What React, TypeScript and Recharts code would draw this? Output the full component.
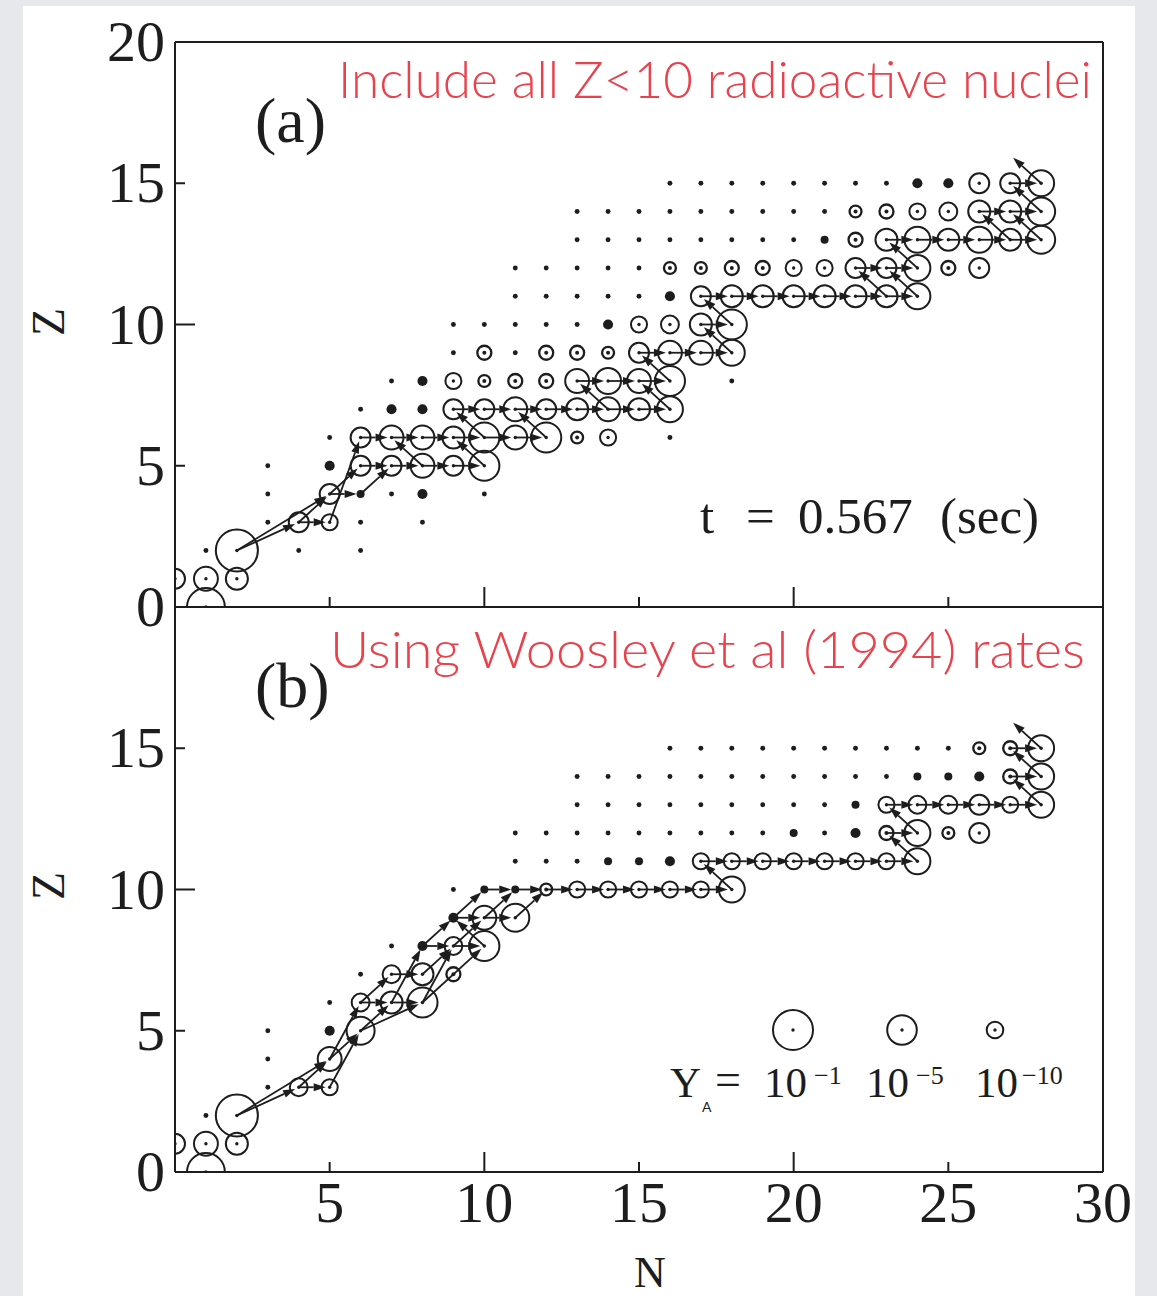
import React from "react";
import { ScatterChart, Scatter, XAxis, YAxis } from "recharts";

const D = -14.5; // nuclei that only show as a speck

type Row = { z: number; n0: number; logY: (number | null)[] };
type Flow = [number, number, number, number];

// panel (a): log10 abundance per nucleus, row by row (Z), starting at N = n0
const nucleiA: Row[] = [
  { z: 0, n0: 1, logY: [-1.8] },
  { z: 1, n0: 0, logY: [-8.7, -7.2, -7.9] },
  { z: 2, n0: 1, logY: [D, -0.2, null, D, null, D] },
  { z: 3, n0: 3, logY: [D, -8.7, -10.2, D, null, D] },
  { z: 4, n0: 3, logY: [D, null, -8.7, -13.3, D, -12.5, null, D] },
  { z: 5, n0: 3, logY: [D, null, -12.5, -8.7, -8.7, -7.2, -8.7, -4.8] },
  { z: 6, n0: 5, logY: [D, -8.7, -7.2, -7.2, -7.9, -4.8, -7.2, -4.8, -11.8, -10.2, null, D] },
  { z: 7, n0: 6, logY: [D, -12.5, -12.5, -8.7, -8.7, -7.2, -8.7, -7.9, -7.2, -7.9, -6.4] },
  { z: 8, n0: 7, logY: [D, -12.5, -10.2, -11.8, -11, -11, -7.2, -6.4, -7.2, -4.8, null, D] },
  { z: 9, n0: 9, logY: [D, -11, D, -11, -11, -11.8, -8.7, -7.2, -7.2, -6.4] },
  { z: 10, n0: 9, logY: [D, D, D, D, D, -12.5, -10.2, -9.5, -7.9, -4.8] },
  { z: 11, n0: 11, logY: [D, D, D, D, D, -12.5, -8.7, -7.9, -7.9, -7.9, -7.9, -7.9, -7.9, -6.4] },
  { z: 12, n0: 11, logY: [D, D, D, D, D, -11.8, -11.8, -11, -11, -10.2, -10.2, -8.7, -8.7, -6.4, -11, -8.7] },
  { z: 13, n0: 13, logY: [D, D, D, D, D, D, D, D, -13.3, -11, -7.9, -6.4, -7.9, -6.4, -7.9, -5.6] },
  { z: 14, n0: 13, logY: [D, D, D, D, D, D, D, D, D, -11.8, -11, -10.2, -9.5, -7.9, -7.9, -5.6] },
  { z: 15, n0: 16, logY: [D, D, D, D, D, D, D, D, -12.5, -12.5, -8.7, -8.7, -6.4] },
];

// panel (b)
const nucleiB: Row[] = [
  { z: 0, n0: 1, logY: [-1.8] },
  { z: 1, n0: 0, logY: [-8.7, -7.2, -7.9] },
  { z: 2, n0: 1, logY: [D, -0.2] },
  { z: 3, n0: 3, logY: [D, -9.5, -10.2] },
  { z: 4, n0: 3, logY: [D, null, -7.2] },
  { z: 5, n0: 3, logY: [D, null, -12.5, -5.6] },
  { z: 6, n0: 5, logY: [D, -9.5, -7.9, -4.8] },
  { z: 7, n0: 6, logY: [D, -9.5, -7.9, -11] },
  { z: 8, n0: 7, logY: [D, -12.5, -9.5, -4.8] },
  { z: 9, n0: 9, logY: [-12.5, -7.2, -5.6] },
  { z: 10, n0: 9, logY: [D, -13.3, -13.3, -11.8, -10.2, -10.2, -10.2, -10.2, -10.2, -6.4] },
  { z: 11, n0: 11, logY: [D, D, D, -13.3, -13.3, -12.5, -10.2, -10.2, -10.2, -10.2, -10.2, -10.2, -10.2, -6.4] },
  { z: 12, n0: 11, logY: [D, D, D, D, D, D, D, D, D, -13.3, D, -12.5, -11, -6.4, -11.8, -8.7] },
  { z: 13, n0: 13, logY: [D, D, D, D, D, D, D, D, D, -13.3, -10.2, -9.5, -9.5, -8.7, -10.2, -6.4] },
  { z: 14, n0: 13, logY: [D, D, D, D, D, D, D, D, D, D, D, -13.3, -13.3, -12.5, -11, -6.4] },
  { z: 15, n0: 16, logY: [D, D, D, D, D, D, D, D, D, D, -11.8, -11, -6.4] },
];

// reaction flows [N from, Z from, N to, Z to]
const flowsA: Flow[] = [
  [2, 2, 4, 3], [2, 2, 5, 4], [4, 3, 5, 3], [4, 3, 5, 4], [5, 4, 6, 4], [5, 3, 6, 6], [5, 4, 6, 5], [6, 4, 7, 5],
  [6, 5, 7, 5], [7, 5, 8, 5], [8, 5, 9, 5], [9, 5, 10, 5],
  [6, 6, 7, 6], [7, 6, 8, 6], [8, 6, 9, 6], [9, 6, 10, 6], [10, 6, 11, 6], [11, 6, 12, 6],
  [8, 5, 7, 6], [10, 5, 9, 6], [10, 6, 9, 7], [12, 6, 11, 7],
  [9, 7, 10, 7], [10, 7, 11, 7], [11, 7, 12, 7], [12, 7, 13, 7], [13, 7, 14, 7], [14, 7, 15, 7], [15, 7, 16, 7],
  [14, 7, 13, 8], [16, 7, 15, 8],
  [13, 8, 14, 8], [14, 8, 15, 8], [15, 8, 16, 8], [16, 8, 15, 9],
  [15, 9, 16, 9], [16, 9, 17, 9], [17, 9, 18, 9], [18, 9, 17, 10],
  [17, 10, 18, 10], [18, 10, 17, 11],
  [17, 11, 18, 11], [18, 11, 19, 11], [19, 11, 20, 11], [20, 11, 21, 11], [21, 11, 22, 11], [22, 11, 23, 11], [23, 11, 24, 11],
  [23, 11, 22, 12], [24, 11, 23, 12], [22, 12, 23, 12], [23, 12, 24, 12], [24, 12, 23, 13],
  [23, 13, 24, 13], [24, 13, 25, 13], [25, 13, 26, 13], [26, 13, 27, 13], [27, 13, 28, 13],
  [27, 13, 26, 14], [28, 13, 27, 14], [26, 14, 27, 14], [27, 14, 28, 14],
  [28, 14, 27, 15], [27, 15, 28, 15], [28, 15, 27, 16],
];

const flowsB: Flow[] = [
  [2, 2, 4, 3], [2, 2, 5, 4], [4, 3, 5, 3], [4, 3, 5, 4], [5, 3, 6, 5], [5, 4, 6, 6], [5, 4, 6, 5],
  [6, 5, 7, 6], [6, 5, 8, 6], [6, 6, 7, 6], [6, 6, 7, 7], [7, 6, 8, 6], [7, 7, 8, 7], [7, 6, 8, 8],
  [8, 6, 9, 8], [8, 7, 9, 8], [8, 6, 10, 8], [8, 8, 9, 8], [9, 8, 10, 8], [8, 8, 9, 9], [9, 8, 10, 9],
  [10, 8, 9, 9], [9, 9, 10, 9], [10, 9, 11, 9], [9, 9, 10, 10], [11, 9, 12, 10], [10, 9, 11, 10],
  [10, 10, 11, 10], [11, 10, 12, 10], [12, 10, 13, 10], [13, 10, 14, 10], [14, 10, 15, 10], [15, 10, 16, 10], [16, 10, 17, 10], [17, 10, 18, 10],
  [18, 10, 17, 11],
  [17, 11, 18, 11], [18, 11, 19, 11], [19, 11, 20, 11], [20, 11, 21, 11], [21, 11, 22, 11], [22, 11, 23, 11], [23, 11, 24, 11],
  [24, 11, 23, 12], [23, 12, 24, 12], [24, 12, 23, 13],
  [23, 13, 24, 13], [24, 13, 25, 13], [25, 13, 26, 13], [26, 13, 27, 13], [27, 13, 28, 13],
  [28, 13, 27, 14], [27, 14, 28, 14], [28, 14, 27, 15], [27, 15, 28, 15], [28, 15, 27, 16],
];

const xTicksBottom = [5, 10, 15, 20, 25, 30];
const xTicksTop = [5, 10, 15, 20, 25];
const yTicksLeft = [0, 5, 10, 15, 20];
const yTicksRight = [5, 10, 15];
const legendLogY = [-1, -5, -10];

const INK = "#1d1d1d";
const RED = "#e8434d";
const SERIF = "'Liberation Serif', 'DejaVu Serif', serif";
const SANS = "Lato, 'Open Sans', sans-serif";

// circle size grows with log abundance
const radius = (logY: number) => 21.3 + 1.3 * logY;

function toPoints(rows: Row[]) {
  const pts: { n: number; z: number; logY: number }[] = [];
  rows.forEach((row) => {
    row.logY.forEach((v, i) => {
      if (v !== null) pts.push({ n: row.n0 + i, z: row.z, logY: v });
    });
  });
  return pts;
}

function Nucleus({ cx, cy, logY }: { cx: number; cy: number; logY: number }) {
  const r = radius(logY);
  if (r < 5.5) return <circle cx={cx} cy={cy} r={Math.max(r, 2.4)} fill={INK} />;
  const heavy = r < 7.5;
  return (
    <g>
      <circle cx={cx} cy={cy} r={r} fill="none" stroke={INK} strokeWidth={heavy ? 2.3 : 2} />
      <circle cx={cx} cy={cy} r={heavy ? 2 : 1.7} fill={INK} />
    </g>
  );
}

// points come in pairs: start, end
function ArrowLines(props: any) {
  const pts = props.points || [];
  const out = [];
  for (let i = 0; i + 1 < pts.length; i += 2) {
    const a = pts[i];
    const b = pts[i + 1];
    const dx = b.x - a.x;
    const dy = b.y - a.y;
    const len = Math.hypot(dx, dy);
    if (!len) continue;
    const ux = dx / len;
    const uy = dy / len;
    const tx = b.x - ux * 4;
    const ty = b.y - uy * 4;
    const bx = tx - ux * 12;
    const by = ty - uy * 12;
    const px = -uy * 4;
    const py = ux * 4;
    out.push(
      <g key={i}>
        <line x1={a.x} y1={a.y} x2={bx} y2={by} stroke={INK} strokeWidth={1.8} />
        <polygon points={`${tx},${ty} ${bx + px},${by + py} ${bx - px},${by - py}`} fill={INK} />
      </g>
    );
  }
  return <g>{out}</g>;
}

const tickLen = (v: number, step: number) => (v % step === 0 ? 20 : 10);

function Panel({
  rows,
  flows,
  top,
  height,
  mTop,
  mBottom,
  xLabels,
  yLabels,
}: {
  rows: Row[];
  flows: Flow[];
  top: number;
  height: number;
  mTop: number;
  mBottom: number;
  xLabels: number[];
  yLabels: number[];
}) {
  const nuclei = toPoints(rows);
  const arrows = flows.flatMap(([n1, z1, n2, z2]) => [
    { n: n1, z: z1 },
    { n: n2, z: z2 },
  ]);
  const axisLine = { stroke: INK, strokeWidth: 2 };

  // axes get 1px so Recharts draws them; margins absorb that pixel
  return (
    <div style={{ position: "absolute", left: 0, top }}>
      <ScatterChart width={1157} height={height} margin={{ top: mTop - 1, right: 53, bottom: mBottom - 1, left: 174 }}>
        <XAxis
          xAxisId="b"
          dataKey="n"
          type="number"
          domain={[0, 30]}
          ticks={xTicksBottom}
          interval={0}
          allowDataOverflow
          height={1}
          tickSize={0}
          tickMargin={0}
          tickLine={false}
          axisLine={axisLine}
          tick={(p: any) => (
            <g>
              {p.payload.value < 30 && (
                <line x1={p.x} y1={p.y} x2={p.x} y2={p.y - tickLen(p.payload.value, 10)} stroke={INK} strokeWidth={2} />
              )}
              {xLabels.includes(p.payload.value) && (
                <text x={p.x} y={p.y + 50} textAnchor="middle" fontFamily={SERIF} fontSize={58} fill={INK}>
                  {p.payload.value}
                </text>
              )}
            </g>
          )}
        />
        <XAxis
          xAxisId="t"
          dataKey="n"
          type="number"
          orientation="top"
          domain={[0, 30]}
          ticks={xTicksTop}
          interval={0}
          height={1}
          tickSize={0}
          tickMargin={0}
          tickLine={false}
          axisLine={axisLine}
          tick={(p: any) => (
            <line x1={p.x} y1={p.y} x2={p.x} y2={p.y + tickLen(p.payload.value, 10)} stroke={INK} strokeWidth={2} />
          )}
        />
        <YAxis
          yAxisId="l"
          dataKey="z"
          type="number"
          domain={[0, 20]}
          ticks={yTicksLeft}
          interval={0}
          allowDataOverflow
          width={1}
          tickSize={0}
          tickMargin={0}
          tickLine={false}
          axisLine={axisLine}
          tick={(p: any) => (
            <g>
              {p.payload.value % 20 !== 0 && (
                <line x1={p.x} y1={p.y} x2={p.x + tickLen(p.payload.value, 10)} y2={p.y} stroke={INK} strokeWidth={2} />
              )}
              {yLabels.includes(p.payload.value) && (
                <text x={p.x - 10} y={p.y + 19} textAnchor="end" fontFamily={SERIF} fontSize={58} fill={INK}>
                  {p.payload.value}
                </text>
              )}
            </g>
          )}
        />
        <YAxis
          yAxisId="r"
          dataKey="z"
          type="number"
          orientation="right"
          domain={[0, 20]}
          ticks={yTicksRight}
          interval={0}
          width={1}
          tickSize={0}
          tickMargin={0}
          tickLine={false}
          axisLine={axisLine}
          tick={(p: any) => (
            <line x1={p.x} y1={p.y} x2={p.x - tickLen(p.payload.value, 10)} y2={p.y} stroke={INK} strokeWidth={2} />
          )}
        />
        <Scatter
          xAxisId="b"
          yAxisId="l"
          data={nuclei}
          isAnimationActive={false}
          shape={(p: any) => <Nucleus cx={p.cx} cy={p.cy} logY={p.payload.logY} />}
        />
        <Scatter
          xAxisId="b"
          yAxisId="l"
          data={arrows}
          isAnimationActive={false}
          line={ArrowLines}
          lineType="joint"
          shape={() => <g />}
        />
      </ScatterChart>
    </div>
  );
}

function Labels() {
  const legendX = [793, 902, 995];
  return (
    <svg width={1157} height={1296} style={{ position: "absolute", left: 0, top: 0, pointerEvents: "none" }}>
      <text x={338} y={98} fontFamily={SANS} fontWeight={300} fontSize={52} fill={RED} textLength={754} lengthAdjust="spacingAndGlyphs">
        Include all Z&lt;10 radioactive nuclei
      </text>
      <text x={330} y={668} fontFamily={SANS} fontWeight={300} fontSize={52} fill={RED} textLength={755} lengthAdjust="spacingAndGlyphs">
        Using Woosley et al (1994) rates
      </text>

      <text x={255} y={142} fontFamily={SERIF} fontSize={64} fill={INK}>(a)</text>
      <text x={255} y={707} fontFamily={SERIF} fontSize={64} fill={INK}>(b)</text>
      <text y={533} fontFamily={SERIF} fontSize={51} fill={INK}>
        <tspan x={700}>t</tspan>
        <tspan x={746}>=</tspan>
        <tspan x={798}>0.567</tspan>
        <tspan x={940}>(sec)</tspan>
      </text>

      <text x={48} y={322} transform="rotate(-90 48 322)" textAnchor="middle" dominantBaseline="central" fontFamily={SERIF} fontSize={46} fill={INK}>Z</text>
      <text x={48} y={886} transform="rotate(-90 48 886)" textAnchor="middle" dominantBaseline="central" fontFamily={SERIF} fontSize={46} fill={INK}>Z</text>
      <text x={650} y={1287} textAnchor="middle" fontFamily={SERIF} fontSize={44} fill={INK}>N</text>

      {legendLogY.map((v, i) => (
        <g key={v}>
          <circle cx={legendX[i]} cy={1030} r={radius(v)} fill="none" stroke={INK} strokeWidth={2} />
          <circle cx={legendX[i]} cy={1030} r={1.7} fill={INK} />
        </g>
      ))}
      <g fontFamily={SERIF} fill={INK}>
        <text x={670} y={1097} fontSize={43}>Y</text>
        <text x={702} y={1112} fontSize={14} fontFamily={SANS}>A</text>
        <text x={715} y={1095} fontSize={46}>=</text>
        <text x={764} y={1097} fontSize={43}>10</text>
        <text x={814} y={1084} fontSize={26}>−1</text>
        <text x={866} y={1097} fontSize={43}>10</text>
        <text x={916} y={1084} fontSize={26}>−5</text>
        <text x={975} y={1097} fontSize={43}>10</text>
        <text x={1022} y={1084} fontSize={26}>−10</text>
      </g>
    </svg>
  );
}

export default function App() {
  return (
    <div style={{ position: "absolute", left: 0, top: 0, width: 1157, height: 1296, background: "#e6e8ec", overflow: "hidden" }}>
      <div style={{ position: "absolute", left: 23, top: 6, width: 1112, height: 1290, background: "#ffffff" }} />
      <Panel rows={nucleiA} flows={flowsA} top={0} height={640} mTop={42} mBottom={33} xLabels={[]} yLabels={[0, 5, 10, 15, 20]} />
      <Panel rows={nucleiB} flows={flowsB} top={560} height={736} mTop={47} mBottom={124} xLabels={[5, 10, 15, 20, 25, 30]} yLabels={[0, 5, 10, 15]} />
      <Labels />
    </div>
  );
}
